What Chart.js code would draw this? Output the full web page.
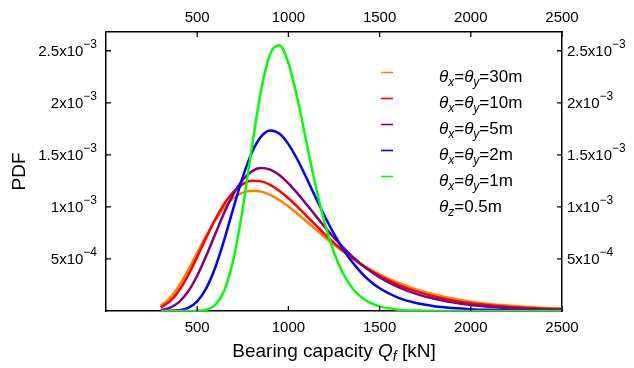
<!DOCTYPE html>
<html>
<head>
<meta charset="utf-8">
<script src="https://cdn.jsdelivr.net/npm/chart.js@4.4.1/dist/chart.umd.min.js"></script>
<style>
  html, body { margin: 0; padding: 0; background: #fff; }
  #wrap { width: 634px; height: 368px; position: relative; }
</style>
</head>
<body>
<div id="wrap"><canvas id="pdfChart"></canvas></div>
<script>
// Bearing capacity Qf [kN]
const capacity = [300, 350, 400, 450, 500, 550, 600, 650, 700, 750, 800, 850, 900, 950,
  1000, 1050, 1100, 1150, 1200, 1250, 1300, 1350, 1400, 1450, 1500,
  1600, 1700, 1800, 1900, 2000, 2100, 2200, 2300, 2400, 2500];

// PDF values, in units of 1e-3
const pdf30 = [0.050, 0.123, 0.240, 0.390, 0.558, 0.725, 0.876, 0.998, 1.085, 1.137, 1.156, 1.147, 1.115, 1.066,
  1.004, 0.934, 0.859, 0.784, 0.709, 0.638, 0.571, 0.509, 0.452, 0.400, 0.353,
  0.272, 0.208, 0.158, 0.120, 0.090, 0.068, 0.052, 0.040, 0.030, 0.023];
const pdf10 = [0.035, 0.092, 0.195, 0.342, 0.520, 0.707, 0.884, 1.034, 1.147, 1.219, 1.250, 1.245, 1.212, 1.156,
  1.083, 1.000, 0.912, 0.824, 0.737, 0.655, 0.578, 0.508, 0.445, 0.388, 0.337,
  0.253, 0.188, 0.139, 0.102, 0.075, 0.055, 0.040, 0.030, 0.022, 0.016];
const pdf5 = [0.008, 0.030, 0.085, 0.187, 0.339, 0.532, 0.744, 0.950, 1.127, 1.260, 1.342, 1.373, 1.358, 1.306,
  1.227, 1.130, 1.023, 0.914, 0.806, 0.704, 0.610, 0.524, 0.448, 0.381, 0.323,
  0.232, 0.165, 0.117, 0.083, 0.058, 0.041, 0.029, 0.020, 0.014, 0.010];
const pdf2 = [0.000, 0.001, 0.007, 0.030, 0.093, 0.220, 0.423, 0.694, 0.997, 1.288, 1.523, 1.675, 1.734, 1.704,
  1.603, 1.453, 1.275, 1.089, 0.908, 0.741, 0.595, 0.470, 0.367, 0.284, 0.218,
  0.128, 0.076, 0.046, 0.029, 0.018, 0.011, 0.007, 0.005, 0.003, 0.002];
const pdf1 = [0, 0, 0, 0, 0.002, 0.012, 0.060, 0.202, 0.506, 0.988, 1.574, 2.117, 2.469, 2.553,
  2.382, 2.036, 1.613, 1.198, 0.841, 0.562, 0.360, 0.222, 0.133, 0.077, 0.044,
  0.013, 0.004, 0.001, 0, 0, 0, 0, 0, 0, 0];

const seriesNames = ['30m', '10m', '5m', '2m', '1m'];
const seriesColors = ['#ff8000', '#ff0000', '#800080', '#0000ff', '#00ff00'];

const xTicks = [500, 1000, 1500, 2000, 2500];
const yTicks = [5e-4, 1e-3, 1.5e-3, 2e-3, 2.5e-3];
const yMantissa = ['5', '1', '1.5', '2', '2.5'];
const yExponent = ['\u22124', '\u22123', '\u22123', '\u22123', '\u22123'];

const FONT = "'Liberation Sans', Arial, sans-serif";

function drawParts(ctx, x, y, parts) {
  parts.forEach(p => {
    ctx.font = (p.italic ? 'italic ' : '') + p.size + 'px ' + FONT;
    ctx.fillText(p.t, x, y + (p.dy || 0));
    x += ctx.measureText(p.t).width;
  });
  return x;
}

function partsWidth(ctx, parts) {
  let w = 0;
  parts.forEach(p => {
    ctx.font = (p.italic ? 'italic ' : '') + p.size + 'px ' + FONT;
    w += ctx.measureText(p.t).width;
  });
  return w;
}

// Frame ticks point inward, labels and legend drawn as rich text
const decorPlugin = {
  id: 'decor',
  afterDraw(chart) {
    const ctx = chart.ctx,
      area = chart.chartArea,
      sx = chart.scales.x,
      sy = chart.scales.y,
      tl = 5;
    ctx.save();
    ctx.strokeStyle = '#000';
    ctx.lineWidth = 1.3;
    ctx.beginPath();
    xTicks.forEach(v => {
      let px = sx.getPixelForValue(v);
      ctx.moveTo(px, area.bottom); ctx.lineTo(px, area.bottom - tl);
      ctx.moveTo(px, area.top); ctx.lineTo(px, area.top + tl);
    });
    yTicks.forEach(v => {
      let py = sy.getPixelForValue(v);
      ctx.moveTo(area.left, py); ctx.lineTo(area.left + tl, py);
      ctx.moveTo(area.right, py); ctx.lineTo(area.right - tl, py);
    });
    ctx.stroke();

    ctx.fillStyle = '#000';
    ctx.textBaseline = 'alphabetic';

    // x tick labels, bottom and top
    ctx.font = '15px ' + FONT;
    ctx.textAlign = 'center';
    xTicks.forEach(v => {
      let px = sx.getPixelForValue(v);
      ctx.fillText(String(v), px, area.bottom + 21);
      ctx.fillText(String(v), px, area.top - 10);
    });

    // y tick labels, left and right
    ctx.textAlign = 'left';
    yTicks.forEach((v, i) => {
      let py = sy.getPixelForValue(v),
        parts = [
          { t: yMantissa[i] + 'x10', size: 15 },
          { t: yExponent[i], size: 12, dy: -8 }
        ],
        w = partsWidth(ctx, parts);
      drawParts(ctx, area.left - 9 - w, py + 5, parts);
      drawParts(ctx, area.right + 5, py + 5, parts);
    });

    // axis titles
    let title = [
      { t: 'Bearing capacity ', size: 19 },
      { t: 'Q', size: 19, italic: true },
      { t: 'f', size: 14, italic: true, dy: 4 },
      { t: ' [kN]', size: 19 }
    ];
    let tw = partsWidth(ctx, title);
    drawParts(ctx, (area.left + area.right) / 2 - tw / 2, 357, title);

    ctx.save();
    ctx.translate(25, 171.5);
    ctx.rotate(-Math.PI / 2);
    ctx.font = '19px ' + FONT;
    ctx.textAlign = 'center';
    ctx.fillText('PDF', 0, 0);
    ctx.restore();

    // legend
    ctx.textAlign = 'left';
    ctx.lineWidth = 1.6;
    seriesNames.forEach((name, i) => {
      let ly = 72.5 + i * 26;
      ctx.strokeStyle = seriesColors[i];
      ctx.beginPath();
      ctx.moveTo(381, ly); ctx.lineTo(393, ly);
      ctx.stroke();
      drawParts(ctx, 439, ly + 9.5, [
        { t: '\u03b8', size: 17, italic: true },
        { t: 'x', size: 12, italic: true, dy: 4 },
        { t: '=', size: 17 },
        { t: '\u03b8', size: 17, italic: true },
        { t: 'y', size: 12, italic: true, dy: 4 },
        { t: '=' + name, size: 17 }
      ]);
    });
    drawParts(ctx, 439, 72.5 + 5 * 26 + 9.5, [
      { t: '\u03b8', size: 17, italic: true },
      { t: 'z', size: 12, italic: true, dy: 4 },
      { t: '=0.5m', size: 17 }
    ]);
    ctx.restore();
  }
};

const seriesData = [pdf30, pdf10, pdf5, pdf2, pdf1];

new Chart(document.getElementById('pdfChart').getContext('2d'), {
  type: 'line',
  data: {
    datasets: seriesData.map((vals, i) => ({
      label: seriesNames[i],
      data: capacity.map((q, j) => ({ x: q, y: vals[j] * 1e-3 })),
      borderColor: seriesColors[i],
      borderWidth: 2.5,
      pointRadius: 0,
      fill: false,
      cubicInterpolationMode: 'monotone',
      order: 5 - i,
      xAxisID: 'x',
      yAxisID: 'y'
    }))
  },
  options: {
    responsive: true,
    maintainAspectRatio: false,
    animation: false,
    layout: { padding: 0 },
    plugins: {
      legend: { display: false },
      tooltip: { enabled: false }
    },
    scales: {
      x: {
        type: 'linear', position: 'bottom', min: 0, max: 2500,
        ticks: { display: false }, grid: { display: false },
        border: { display: true, color: '#000', width: 1.5 },
        afterFit: (s) => { s.height = 57; }
      },
      x2: {
        type: 'linear', position: 'top', min: 0, max: 2500,
        ticks: { display: false }, grid: { display: false },
        border: { display: true, color: '#000', width: 1.5 },
        afterFit: (s) => { s.height = 32; }
      },
      y: {
        type: 'linear', position: 'left', min: 0, max: 2.68e-3,
        ticks: { display: false }, grid: { display: false },
        border: { display: true, color: '#000', width: 1.5 },
        afterFit: (s) => { s.width = 106; }
      },
      y2: {
        type: 'linear', position: 'right', min: 0, max: 2.68e-3,
        ticks: { display: false }, grid: { display: false },
        border: { display: true, color: '#000', width: 1.5 },
        afterFit: (s) => { s.width = 72; }
      }
    }
  },
  plugins: [decorPlugin]
});
</script>
</body>
</html>
